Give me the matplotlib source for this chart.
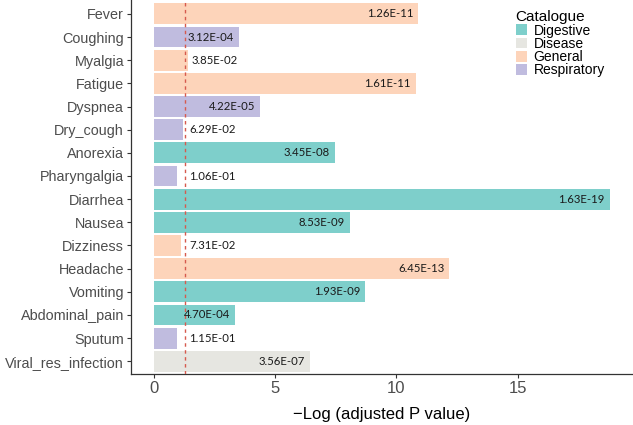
import matplotlib
matplotlib.use("Agg")
import matplotlib.pyplot as plt
from matplotlib.patches import Patch

symptoms = ["Fever", "Coughing", "Myalgia", "Fatigue", "Dyspnea", "Dry_cough",
            "Anorexia", "Pharyngalgia", "Diarrhea", "Nausea", "Dizziness",
            "Headache", "Vomiting", "Abdominal_pain", "Sputum", "Viral_res_infection"]
catalogue = ["General", "Respiratory", "General", "General", "Respiratory", "Respiratory",
             "Digestive", "Respiratory", "Digestive", "Digestive", "General",
             "General", "Digestive", "Digestive", "Respiratory", "Disease"]
p_labels = ["1.26E-11", "3.12E-04", "3.85E-02", "1.61E-11", "4.22E-05", "6.29E-02",
            "3.45E-08", "1.06E-01", "1.63E-19", "8.53E-09", "7.31E-02",
            "6.45E-13", "1.93E-09", "4.70E-04", "1.15E-01", "3.56E-07"]
neglog = [10.90, 3.51, 1.41, 10.79, 4.37, 1.20,
          7.46, 0.97, 18.79, 8.07, 1.14,
          12.19, 8.71, 3.33, 0.94, 6.45]
threshold = 1.301

cat_order = ["Digestive", "Disease", "General", "Respiratory"]
cat_colors = {"Digestive": "#7ECFCB", "Disease": "#E6E6E1",
              "General": "#FDD4BA", "Respiratory": "#C0BCDF"}

fig = plt.figure(figsize=(6.33, 4.25), dpi=100)
ax = fig.add_axes([0.207, 0.12, 0.792, 0.88])

n = len(symptoms)
ypos = list(range(n, 0, -1))
ax.barh(ypos, neglog, height=0.9, color=[cat_colors[c] for c in catalogue], zorder=2)

ax.axvline(threshold, color="#D65A4E", linestyle=(0, (2.5, 2.5)), linewidth=1.0, zorder=3)

for y, v, lab in zip(ypos, neglog, p_labels):
    if v > 2:
        ax.text(v - 0.2, y, lab, ha="right", va="center", fontsize=8.2,
                family="Lato", color="#1a1a1a", zorder=4)
    else:
        ax.text(max(v, threshold) + 0.15, y, lab, ha="left", va="center", fontsize=8.2,
                family="Lato", color="#1a1a1a", zorder=4)

ax.set_yticks(ypos)
ax.set_yticklabels(symptoms, fontsize=10.4, color="#4D4D4D", family="Liberation Sans")
ax.set_ylim(0.45, n + 0.6)
ax.set_xlim(-0.94, 19.73)
ax.set_xticks([0, 5, 10, 15])
ax.set_xticklabels(["0", "5", "10", "15"], fontsize=12, color="#4D4D4D", family="Liberation Sans")
ax.set_xlabel("\u2212Log (adjusted P value)", fontsize=12, family="Liberation Sans", labelpad=8)

for s in ["top", "right"]:
    ax.spines[s].set_visible(False)
for s in ["left", "bottom"]:
    ax.spines[s].set_color("#333333")
    ax.spines[s].set_linewidth(0.9)
ax.tick_params(axis="both", color="#333333", length=3, width=0.8, pad=2)

handles = [Patch(facecolor=cat_colors[c], edgecolor="none", label=c) for c in cat_order]
leg = ax.legend(handles=handles, title="Catalogue", loc="upper right",
                bbox_to_anchor=(0.962, 0.995), frameon=False,
                prop={"family": "Liberation Sans", "size": 10},
                handlelength=0.8, handleheight=0.8, handletextpad=0.5,
                labelspacing=-0.05, borderaxespad=0.2)
leg.get_title().set_fontsize(11)
leg.get_title().set_family("Liberation Sans")
leg._legend_box.align = "left"

fig.savefig("out.png", dpi=100)
